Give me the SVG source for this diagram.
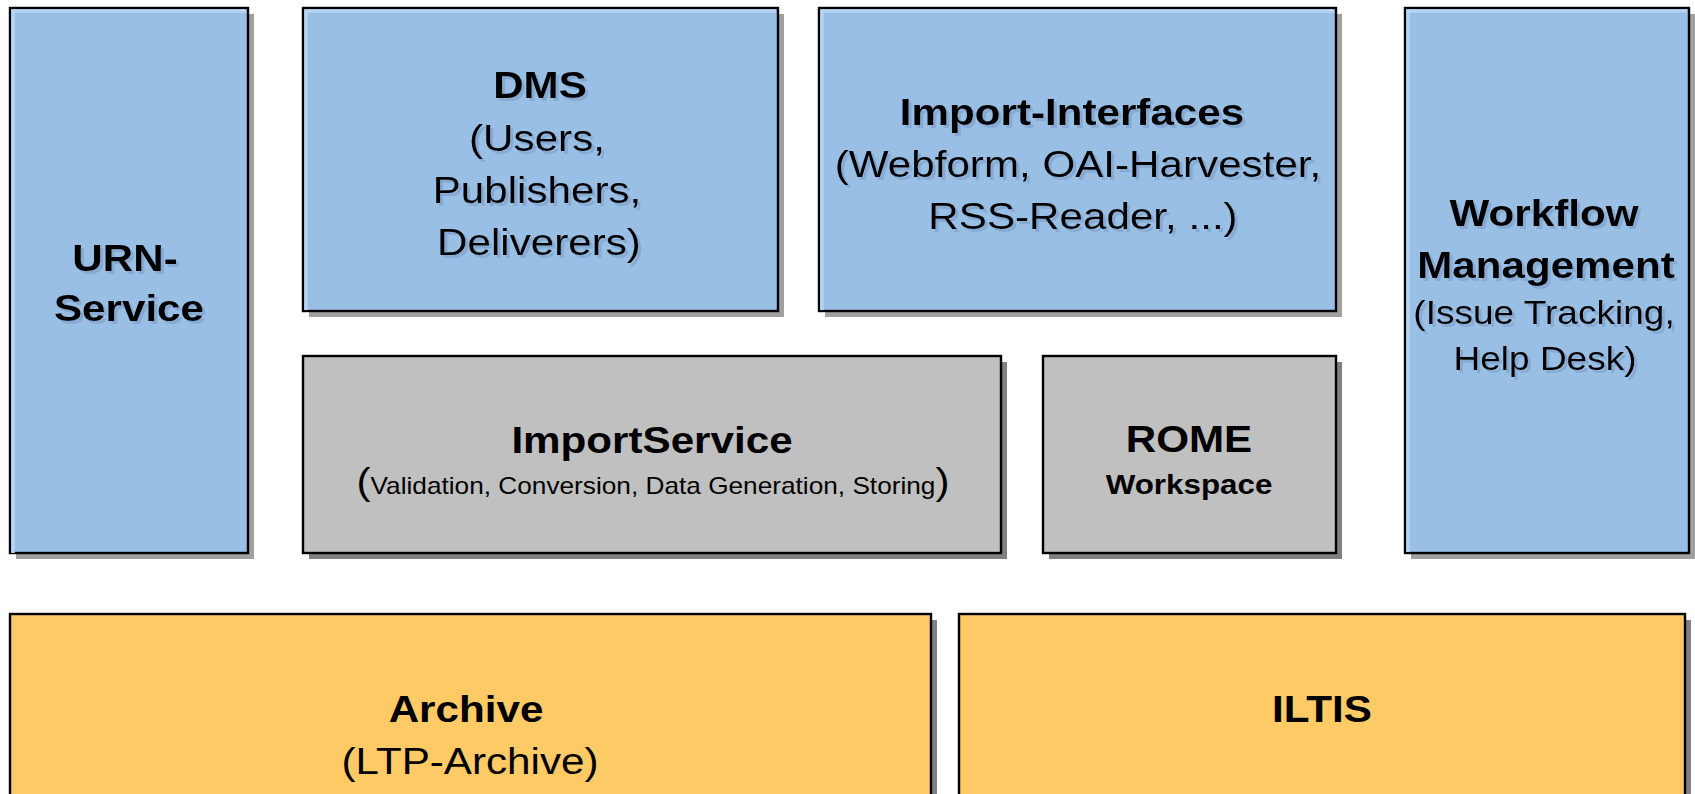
<svg xmlns="http://www.w3.org/2000/svg" width="1695" height="794" viewBox="0 0 1695 794">
<style>
  .box { stroke: #000; stroke-width: 2.4; }
  .blue { fill: #99BFE5; }
  .gray { fill: #C0C0C0; }
  .orange { fill: #FDCA66; }
  .shL { fill: #A0A0A0; }
  .shD { fill: #808080; }
  .hl { fill: none; stroke: #B4D4F5; stroke-width: 3.5; }
  text { font-family: "Liberation Sans", Arial, sans-serif; fill: #000; text-anchor: middle; }
  .b { font-weight: bold; font-size: 37px; }
  .r { font-size: 37px; }
  .s { font-size: 32.5px; }
  .w { font-weight: bold; font-size: 27.5px; }
  .t { font-size: 23px; }
</style>
<defs>
  <filter id="ts" x="-10%" y="-30%" width="130%" height="160%">
    <feOffset in="SourceAlpha" dx="2.5" dy="2.5" result="o"/>
    <feFlood flood-color="#6f90b8" flood-opacity="0.45"/>
    <feComposite in2="o" operator="in" result="s"/>
    <feMerge><feMergeNode in="s"/><feMergeNode in="SourceGraphic"/></feMerge>
  </filter>
</defs>
<rect width="1695" height="794" fill="#fff"/>

<g id="connectors"></g>

<g id="urn-service">
  <rect class="shL" x="16" y="14" width="238" height="545"/>
  <rect class="box blue" x="10" y="8" width="238" height="545"/>
  <polyline class="hl" points="13,553 13,11 246,11"/>
  <g filter="url(#ts)">
    <text class="b" transform="matrix(1.14 0 0 1 125 271)">URN-</text>
    <text class="b" transform="matrix(1.14 0 0 1 129 321)">Service</text>
  </g>
</g>

<g id="dms">
  <rect class="shL" x="309" y="14" width="475" height="303"/>
  <rect class="box blue" x="303" y="8" width="475" height="303"/>
  <polyline class="hl" points="306,310 306,11 776,11"/>
  <g filter="url(#ts)">
    <text class="b" transform="matrix(1.14 0 0 1 540 98)">DMS</text>
    <text class="r" transform="matrix(1.14 0 0 1 537 151)">(Users,</text>
    <text class="r" transform="matrix(1.14 0 0 1 537 203)">Publishers,</text>
    <text class="r" transform="matrix(1.14 0 0 1 539 255)">Deliverers)</text>
  </g>
</g>

<g id="import-interfaces">
  <rect class="shL" x="825" y="14" width="517" height="303"/>
  <rect class="box blue" x="819" y="8" width="517" height="303"/>
  <polyline class="hl" points="822,310 822,11 1334,11"/>
  <g filter="url(#ts)">
    <text class="b" transform="matrix(1.14 0 0 1 1072 125)">Import-Interfaces</text>
    <text class="r" transform="matrix(1.14 0 0 1 1078 177)">(Webform, OAI-Harvester,</text>
    <text class="r" transform="matrix(1.14 0 0 1 1083 229)">RSS-Reader, ...)</text>
  </g>
</g>

<g id="workflow-management">
  <rect class="shL" x="1411" y="14" width="284" height="545"/>
  <rect class="box blue" x="1405" y="8" width="284" height="545"/>
  <polyline class="hl" points="1408,552 1408,11 1687,11"/>
  <g filter="url(#ts)">
    <text class="b" transform="matrix(1.14 0 0 1 1544 226)">Workflow</text>
    <text class="b" transform="matrix(1.14 0 0 1 1546 278)">Management</text>
    <text class="s" transform="matrix(1.14 0 0 1 1544 324)">(Issue Tracking,</text>
    <text class="s" transform="matrix(1.14 0 0 1 1545 370)">Help Desk)</text>
  </g>
</g>

<g id="import-service">
  <rect class="shD" x="309" y="362" width="698" height="197"/>
  <rect class="box gray" x="303" y="356" width="698" height="197"/>
  <text class="b" transform="matrix(1.14 0 0 1 652 453)">ImportService</text>
  <text class="r" transform="matrix(1.14 0 0 1 653 494)">(<tspan class="t">Validation, Conversion, Data Generation, Storing</tspan>)</text>
</g>

<g id="rome-workspace">
  <rect class="shD" x="1049" y="362" width="293" height="197"/>
  <rect class="box gray" x="1043" y="356" width="293" height="197"/>
  <text class="b" transform="matrix(1.14 0 0 1 1189 452)">ROME</text>
  <text class="w" transform="matrix(1.14 0 0 1 1189 494)">Workspace</text>
</g>

<g id="archive">
  <rect class="shD" x="16" y="620" width="921" height="200"/>
  <rect class="box orange" x="10" y="614" width="921" height="200"/>
  <text class="b" transform="matrix(1.14 0 0 1 466 722)">Archive</text>
  <text class="r" transform="matrix(1.14 0 0 1 470 774)">(LTP-Archive)</text>
</g>

<g id="iltis">
  <rect class="shD" x="965" y="620" width="726" height="200"/>
  <rect class="box orange" x="959" y="614" width="726" height="200"/>
  <text class="b" transform="matrix(1.14 0 0 1 1322 722)">ILTIS</text>
</g>
</svg>
